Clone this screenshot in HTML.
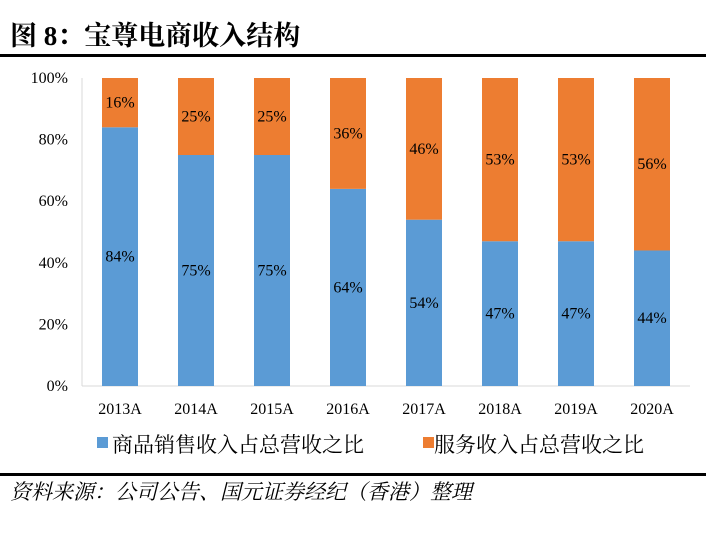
<!DOCTYPE html>
<html><head><meta charset="utf-8"><style>
body{margin:0;background:#fff;width:710px;height:528px;overflow:hidden;font-family:"Liberation Serif","Noto Serif CJK SC",serif;}
</style></head><body>
<svg width="710" height="528" xmlns="http://www.w3.org/2000/svg">
<text x="10" y="45" font-size="27" font-weight="bold" font-family="Liberation Serif, Noto Serif CJK SC, serif">图 8：宝尊电商收入结构</text>
<rect x="0" y="54" width="706" height="3" fill="#000"/>
<g id="plot"></g>
<g>
<rect x="97" y="437" width="11" height="11" fill="#5b9bd5"/>
<text x="112" y="452" font-size="21" font-family="Liberation Serif, Noto Serif CJK SC, serif">商品销售收入占总营收之比</text>
<rect x="423" y="437" width="11" height="11" fill="#ed7d31"/>
<text x="434" y="452" font-size="21" font-family="Liberation Serif, Noto Serif CJK SC, serif">服务收入占总营收之比</text>
</g>
<rect x="0" y="473" width="706" height="3" fill="#000"/>
<text x="10" y="499" font-size="21" font-style="italic" font-family="Liberation Serif, Noto Serif CJK SC, serif">资料来源：公司公告、国元证券经纪（香港）整理</text>
</svg>
<script>
const categories=["2013A","2014A","2015A","2016A","2017A","2018A","2019A","2020A"];
const goods=[84,75,75,64,54,47,47,44];
const services=[16,25,25,36,46,53,53,56];
const yTicks=[0,20,40,60,80,100];
const NS="http://www.w3.org/2000/svg";
const g=document.getElementById('plot');
const x0=82,x1=690,yTop=78,yBot=386;
const y=v=>yBot-(v/100)*(yBot-yTop);
const step=(x1-x0)/categories.length;
const cx=i=>x0+step*(i+0.5);
const bw=36;
function mk(t,a,txt){const e=document.createElementNS(NS,t);for(const k in a)e.setAttribute(k,a[k]);if(txt!==undefined)e.textContent=txt;g.appendChild(e);return e;}
let ax=mk('line',{x1:x0,y1:yTop,x2:x0,y2:yBot,stroke:'#d9d9d9'});


yTicks.forEach(v=>{
 const t=mk('text',{x:68,y:y(v)+5,'font-size':16,'text-anchor':'end','font-family':'Liberation Serif, serif'},v+'%');
 
 
});
let bx=mk('line',{x1:x0,y1:yBot,x2:x1,y2:yBot,stroke:'#d9d9d9'});


categories.forEach((c,i)=>{
 const c0=cx(i);
 const b=mk('rect',{x:c0-bw/2,y:y(goods[i]),width:bw,height:yBot-y(goods[i]),fill:'#5b9bd5'});
 
 
 const s=mk('rect',{x:c0-bw/2,y:y(goods[i]+services[i]),width:bw,height:y(goods[i])-y(goods[i]+services[i]),fill:'#ed7d31'});
 
 
 const l1=mk('text',{x:c0,y:(y(goods[i])+yBot)/2+5,'font-size':16,'text-anchor':'middle','font-family':'Liberation Serif, serif'},goods[i]+'%');
 
 
 const l2=mk('text',{x:c0,y:(y(goods[i])+y(goods[i]+services[i]))/2+5,'font-size':16,'text-anchor':'middle','font-family':'Liberation Serif, serif'},services[i]+'%');
 
 
 const xl=mk('text',{x:c0,y:414,'font-size':16,'text-anchor':'middle','font-family':'Liberation Serif, serif'},c);
 
 
});
</script>
</body></html>
